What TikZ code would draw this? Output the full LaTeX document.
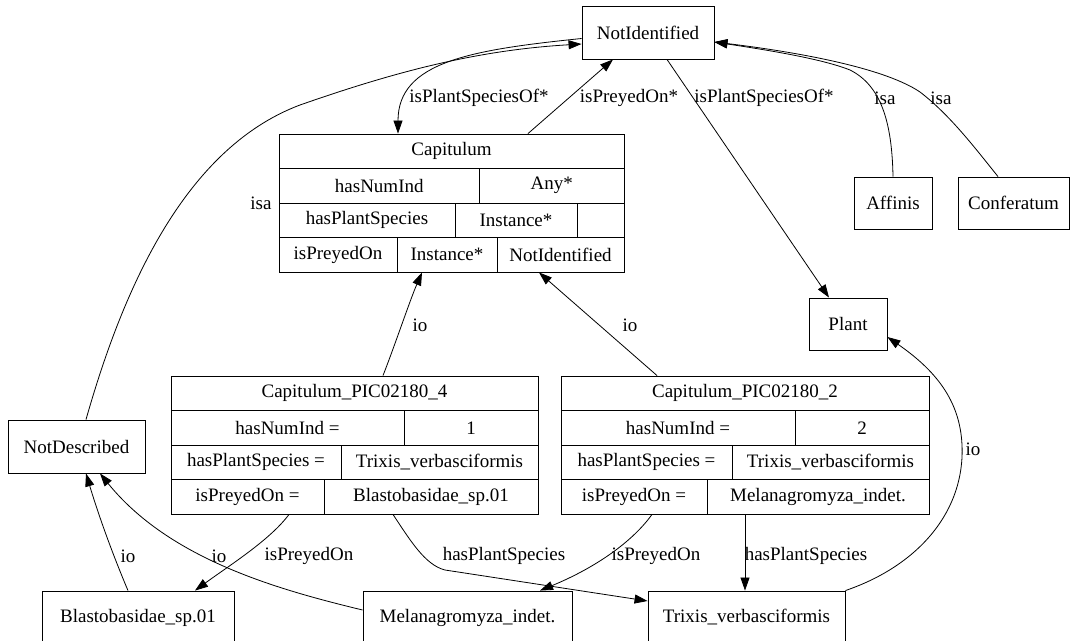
\documentclass[tikz,border=0pt]{standalone}
\usepackage{fontspec}
\setmainfont{Liberation Serif}
\usetikzlibrary{arrows.meta,calc}
\newcommand\gvfont{\fontsize{19}{22}\selectfont}
\newcommand\rcell[6]{\node[box,minimum width=#3-#2,minimum height=#5-#4] (#1) at ({(#2+#3)/2},{(#4+#5)/2}) {#6};}
\tikzset{
  box/.style={draw, line width=0.9pt, inner sep=0pt, font=\gvfont},
  lab/.style={font=\gvfont, inner sep=0pt},
  edge/.style={line width=0.8pt, -{Triangle[length=13pt,width=9pt]}},
}
\begin{document}
\begin{tikzpicture}[x=1pt,y=-1pt]
\useasboundingbox (0,0) rectangle (1071,640);
\clip (0,0) rectangle (1071,640);
\fill[white] (0,0) rectangle (1071,640);

% simple boxes
\node[box,minimum width=132,minimum height=53] (ni) at (648,32.5) {NotIdentified};
\node[box,minimum width=78,minimum height=52] (aff) at (893,203) {Affinis};
\node[box,minimum width=111,minimum height=52] (conf) at (1013.5,203) {Conferatum};
\node[box,minimum width=78,minimum height=52] (plant) at (848,324) {Plant};
\node[box,minimum width=137,minimum height=53] (nd) at (76.5,446.5) {NotDescribed};
\node[box,minimum width=192,minimum height=53] (bl) at (138,617.5) {Blastobasidae\_sp.01};
\node[box,minimum width=209,minimum height=53] (mel) at (467.5,617.5) {Melanagromyza\_indet.};
\node[box,minimum width=197,minimum height=53] (tri) at (746.5,617.5) {Trixis\_verbasciformis};

% record Capitulum
\rcell{cap-t}{279}{624}{134}{168.5}{Capitulum}
\rcell{cap-a1}{279}{479.5}{168.5}{203}{hasNumInd}
\rcell{cap-a2}{479.5}{624}{168.5}{203}{Any*}
\rcell{cap-b1}{279}{455}{203}{237.5}{hasPlantSpecies}
\rcell{cap-b2}{455}{577}{203}{237.5}{Instance*}
\rcell{cap-b3}{577}{624}{203}{237.5}{}
\rcell{cap-c1}{279}{397}{237.5}{272}{isPreyedOn}
\rcell{cap-c2}{397}{497}{237.5}{272}{Instance*}
\rcell{cap-c3}{497}{624}{237.5}{272}{NotIdentified}

% record Capitulum_PIC02180_4
\rcell{c4-t}{171}{538}{376}{410.5}{Capitulum\_PIC02180\_4}
\rcell{c4-a1}{171}{404}{410.5}{445}{hasNumInd =}
\rcell{c4-a2}{404}{538}{410.5}{445}{1}
\rcell{c4-b1}{171}{341}{445}{479.5}{hasPlantSpecies =}
\rcell{c4-b2}{341}{538}{445}{479.5}{Trixis\_verbasciformis}
\rcell{c4-c1}{171}{324}{479.5}{514}{isPreyedOn =}
\rcell{c4-c2}{324}{538}{479.5}{514}{Blastobasidae\_sp.01}

% record Capitulum_PIC02180_2
\rcell{c2-t}{561}{929}{376}{410.5}{Capitulum\_PIC02180\_2}
\rcell{c2-a1}{561}{795}{410.5}{445}{hasNumInd =}
\rcell{c2-a2}{795}{929}{410.5}{445}{2}
\rcell{c2-b1}{561}{732}{445}{479.5}{hasPlantSpecies =}
\rcell{c2-b2}{732}{929}{445}{479.5}{Trixis\_verbasciformis}
\rcell{c2-c1}{561}{707}{479.5}{514}{isPreyedOn =}
\rcell{c2-c2}{707}{929}{479.5}{514}{Melanagromyza\_indet.}

% edges
\draw[edge] ($(nd.north)+(9.5,0)$) .. controls (120,300) and (180,150) .. (300,105)
  .. controls (400,70) and (480,50) .. ($(ni.west)+(0,11.5)$);
\draw[edge] ($(ni.west)+(0,6)$) .. controls (470,50) and (398,62) .. ($(cap-t.north)+(-53.5,0)$);
\draw[edge] ($(cap-t.north)+(76.5,0)$) -- ($(ni.south)+(-35,0)$);
\draw[edge] ($(ni.south)+(19,0)$) -- ($(plant.north)+(-19,0)$);
\draw[edge] (aff.north) .. controls (892,120) and (880,85) .. (850,70)
  .. controls (820,58) and (760,49) .. ($(ni.east)+(0,9.5)$);
\draw[edge] ($(conf.north)+(-15.5,0)$) .. controls (975,148) and (950,115) .. (920,92)
  .. controls (880,65) and (780,50) .. ($(ni.east)+(0,9.5)$);
\draw[edge] ($(c4-t.north)+(28.5,0)$) .. controls (395,345) and (410,300) .. ($(cap-c2.south)+(-25,0)$);
\draw[edge] ($(c2-t.north)+(-88,0)$) -- ($(cap-c3.south)+(-21.5,0)$);
\draw[edge] ($(bl.north)+(-10,0)$) .. controls (115,560) and (100,520) .. ($(nd.south)+(9.5,0)$);
\draw[edge] ($(mel.west)+(0,-7.5)$) .. controls (280,590) and (170,560) .. ($(nd.south)+(23.5,0)$);
\draw[edge] ($(c4-c1.south)+(41.5,0)$) .. controls (270,540) and (230,565) .. ($(bl.north)+(57,0)$);
\draw[edge] ($(c4-c2.south)+(-38,0)$) .. controls (410,540) and (425,565) .. (445,570) -- ($(tri.west)+(0,-16.5)$);
\draw[edge] ($(c2-c1.south)+(18,0)$) .. controls (630,545) and (590,570) .. ($(mel.north)+(72.5,0)$);
\draw[edge] ($(c2-c2.south)+(-73,0)$) -- ($(tri.north)+(-1.5,0)$);
\draw[edge] (tri.north east) .. controls (920,565) and (965,510) .. (962,445)
  .. controls (960,400) and (935,370) .. ($(plant.east)+(0,13)$);

% labels
\node[lab] (l1) at (479,98) {isPlantSpeciesOf*};
\node[lab] (l2) at (629,98) {isPreyedOn*};
\node[lab] (l3) at (764,98) {isPlantSpeciesOf*};
\node[lab] (l4) at (885,98) {isa};
\node[lab] (l5) at (941,98) {isa};
\node[lab] (l6) at (261,203) {isa};
\node[lab] (l7) at (420,325) {io};
\node[lab] (l8) at (630,325) {io};
\node[lab] (l9) at (973,449) {io};
\node[lab] (l10) at (128,556) {io};
\node[lab] (l11) at (219,556) {io};
\node[lab] (l12) at (309,556) {isPreyedOn};
\node[lab] (l13) at (504,556) {hasPlantSpecies};
\node[lab] (l14) at (656,556) {isPreyedOn};
\node[lab] (l15) at (806,556) {hasPlantSpecies};
\end{tikzpicture}
\end{document}
